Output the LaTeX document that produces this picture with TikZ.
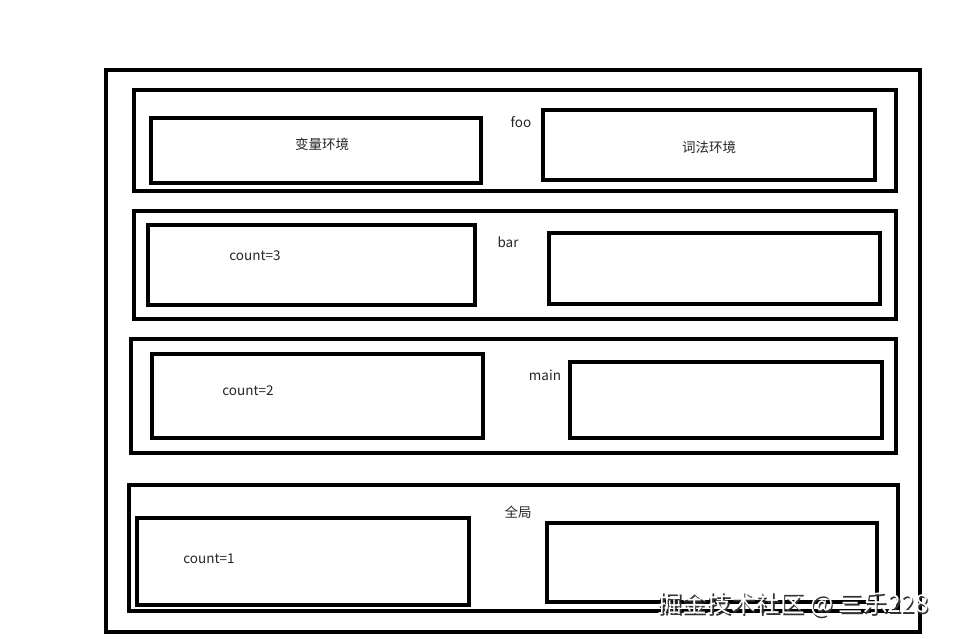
\documentclass[tikz,border=0pt]{standalone}
\usepackage{fontspec}
\setmainfont{Noto Sans CJK SC}
\begin{document}
\begin{tikzpicture}[x=1pt,y=-1pt,
  frame/.style={draw=black,line width=4pt},
  lbl/.style={font=\fontsize{13.5}{15}\selectfont,text=black!85,inner sep=0pt},
  wm/.style={font=\fontsize{24.5}{28}\selectfont,inner sep=0pt,anchor=west}]
\useasboundingbox[fill=white] (0,0) rectangle (954,639);
% outer frame
\draw[frame] (106,70) rectangle (920,632);
% foo
\draw[frame] (134,90) rectangle (896,191);
\draw[frame] (151,118) rectangle (481,183);
\draw[frame] (543,110) rectangle (875,180);
\node[lbl] (foo) at (521,122) {foo};
\node[lbl] (var) at (322,144) {变量环境};
\node[lbl] (lex) at (709,147) {词法环境};
% bar
\draw[frame] (134,211) rectangle (896,319);
\draw[frame] (148,225) rectangle (475,305);
\draw[frame] (549,233) rectangle (880,304);
\node[lbl] (bar) at (508,242) {bar};
\node[lbl] (c3) at (255,256) {count=3};
% main
\draw[frame] (131,339) rectangle (896,453);
\draw[frame] (152,354) rectangle (483,438);
\draw[frame] (570,362) rectangle (882,438);
\node[lbl] (main) at (545,375) {main};
\node[lbl] (c2) at (248,391) {count=2};
% global
\draw[frame] (129,485) rectangle (898,611);
\draw[frame] (137,518) rectangle (469,605);
\draw[frame] (547,523) rectangle (877,602);
\node[lbl] (glob) at (518,512) {全局};
\node[lbl] (c1) at (209,559) {count=1};
% watermark
\node[wm,text=black!80] (wmS) at (658.8,605.8) {掘金技术社区 @ 三乐228};
\node[wm,text=white] (wmT) at (657.5,604.5) {掘金技术社区 @ 三乐228};
\end{tikzpicture}
\end{document}
